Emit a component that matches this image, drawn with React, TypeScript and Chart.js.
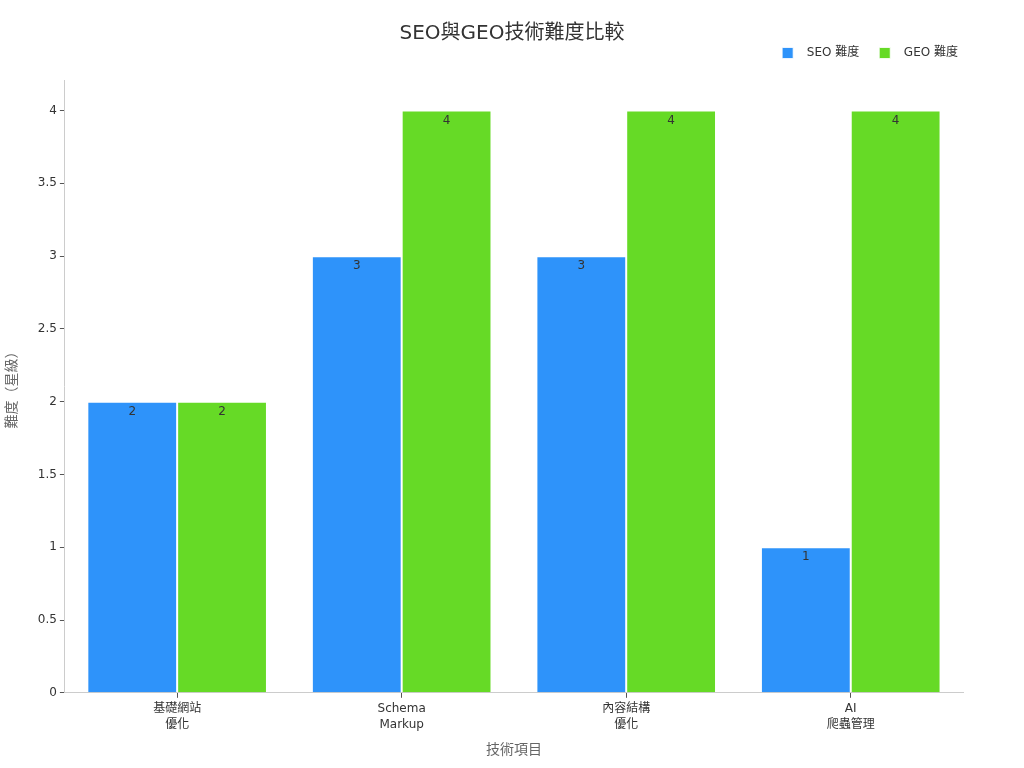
import { useEffect, useRef } from 'react';
import { Chart, ChartConfiguration, Plugin, registerables } from 'chart.js';

Chart.register(...registerables);

const categories: string[][] = [['基礎網站', '優化'], ['Schema', 'Markup'], ['內容結構', '優化'], ['AI', '爬蟲管理']];
const seoValues = [2, 3, 3, 1];
const geoValues = [2, 4, 4, 4];
const yTicks = [0, 0.5, 1, 1.5, 2, 2.5, 3, 3.5, 4];
const chartTitle = 'SEO與GEO技術難度比較';

const FONT = "'DejaVu Sans', 'Noto Sans CJK TC', sans-serif";

// values near the top of each bar + the title centred on the whole canvas
const barLabels: Plugin<'bar'> = {
  id: 'barLabels',
  afterDatasetsDraw(chart) {
    const ctx = chart.ctx;
    ctx.save();
    ctx.font = `12px ${FONT}`;
    ctx.fillStyle = '#333';
    ctx.textAlign = 'center';
    ctx.textBaseline = 'middle';
    chart.data.datasets.forEach((ds, i) => {
      const meta = chart.getDatasetMeta(i);
      meta.data.forEach((el: any, j) => {
        ctx.fillText(String(ds.data[j]), el.x, el.y + 10);
      });
    });
    ctx.font = `20px ${FONT}`;
    ctx.fillText(chartTitle, chart.width / 2, 34);
    ctx.restore();
  },
};

// invisible axes that only reserve space (gap under the legend, right margin)
const spacer = (size: number) => ({
  display: true,
  grid: { display: false },
  border: { display: false },
  ticks: { display: false },
  afterFit: (axis: any) => {
    if (axis.isHorizontal()) axis.height = size;
    else axis.width = size;
  },
});

export default function App() {
  const chartRef = useRef<HTMLCanvasElement>(null);
  const chartInstance = useRef<Chart | null>(null);

  useEffect(() => {
    if (!chartRef.current) return;
    const ctx = chartRef.current.getContext('2d');
    if (!ctx) return;
    if (chartInstance.current) chartInstance.current.destroy();

    const config: ChartConfiguration<'bar'> = {
      type: 'bar',
      data: {
        labels: categories,
        datasets: [
          {
            label: 'SEO 難度',
            data: seoValues,
            backgroundColor: '#2E93FA',
            borderColor: 'rgba(255,255,255,0.8)',
            borderWidth: 1,
            barPercentage: 1,
            categoryPercentage: 0.8,
          },
          {
            label: 'GEO 難度',
            data: geoValues,
            backgroundColor: '#66DA26',
            borderColor: 'rgba(255,255,255,0.8)',
            borderWidth: 1,
            barPercentage: 1,
            categoryPercentage: 0.8,
          },
        ],
      },
      options: {
        animation: false,
        responsive: true,
        maintainAspectRatio: false,
        layout: { padding: { left: 0, right: 46, top: 27, bottom: 5 } },
        plugins: {
          title: { display: false },
          legend: {
            position: 'top',
            align: 'end',
            labels: {
              color: '#333',
              boxWidth: 11,
              boxHeight: 11,
              padding: 20,
              font: { family: FONT, size: 12 },
              generateLabels: (chart) =>
                Chart.defaults.plugins.legend.labels.generateLabels(chart).map((l) => ({ ...l, text: '  ' + l.text })),
            },
          },
          tooltip: { enabled: false },
        },
        scales: {
          x: {
            grid: { drawOnChartArea: false, drawTicks: true, tickLength: 5, color: '#555', offset: false },
            border: { display: true, color: '#ccc' },
            ticks: { color: '#333', font: { family: FONT, size: 12, lineHeight: 1.35 }, padding: 3 },
            title: {
              display: true,
              text: '技術項目',
              color: '#666',
              font: { family: FONT, size: 14 },
              padding: { top: 6 },
            },
          },
          y: {
            min: 0,
            max: 4.21,
            afterBuildTicks: (axis) => {
              axis.ticks = yTicks.map((v) => ({ value: v }));
            },
            grid: { drawOnChartArea: false, drawTicks: true, tickLength: 5, color: '#555' },
            border: { display: true, color: '#ccc' },
            ticks: {
              color: '#333',
              font: { family: FONT, size: 12 },
              padding: 3,
              callback: (v) => String(v),
            },
            title: {
              display: true,
              text: '難度（星級）',
              color: '#666',
              font: { family: FONT, size: 14 },
              padding: { bottom: 14 },
            },
          },
          xTop: { type: 'category', position: 'top', ...spacer(11) } as any,
          yRight: { type: 'linear', position: 'right', ...spacer(15) } as any,
        },
      },
      plugins: [barLabels],
    };

    chartInstance.current = new Chart(ctx, config);
    return () => {
      if (chartInstance.current) {
        chartInstance.current.destroy();
        chartInstance.current = null;
      }
    };
  }, []);

  return (
    <div style={{ position: 'fixed', left: 0, top: 0, width: 1024, height: 768, background: '#fff' }}>
      <canvas ref={chartRef} />
    </div>
  );
}
